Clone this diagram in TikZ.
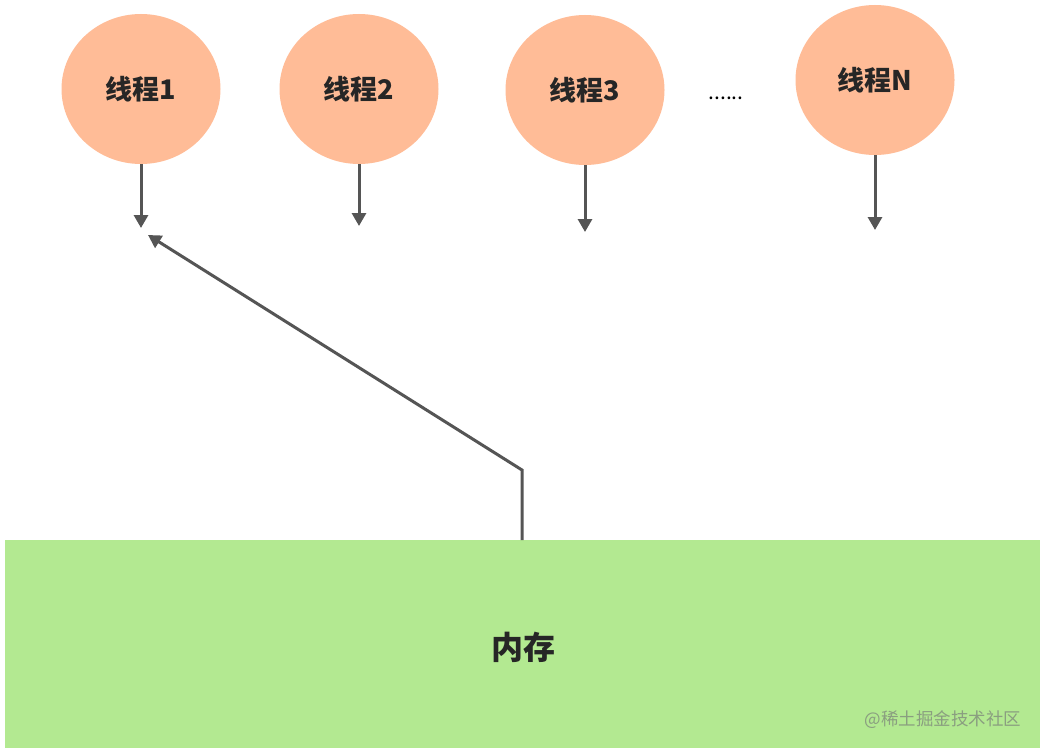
\documentclass[tikz,border=0pt]{standalone}
\usepackage{fontspec}
\setmainfont{Noto Sans CJK SC}
\newfontfamily\cjk{Noto Sans CJK SC}
\usetikzlibrary{shapes.geometric,arrows.meta}
\definecolor{peach}{HTML}{FFBC97}
\definecolor{mem}{HTML}{B3E991}
\definecolor{linegray}{HTML}{555555}
\definecolor{txt}{HTML}{262626}
\definecolor{wmgray}{HTML}{8A9E80}
\tikzset{
  thread/.style={ellipse, fill=peach, minimum width=159pt, minimum height=150pt, inner sep=0pt,
    font=\cjk\bfseries\fontsize{27}{30}\selectfont, text=txt},
  conn/.style={draw=linegray, line width=3pt, -{Triangle[length=13pt,width=14pt]}},
}
\begin{document}
\begin{tikzpicture}[x=1pt,y=-1pt]
\useasboundingbox (0,0) rectangle (1046,752);
\fill[white] (0,0) rectangle (1046,752);
\node[thread] (t1) at (141,89) {线程1};
\node[thread] (t2) at (359,89) {线程2};
\node[thread] (t3) at (585,90) {线程3};
\node[thread] (tn) at (875,80) {线程N};
\node[font=\cjk\fontsize{21}{24}\selectfont] (dots) at (726,98) {......};
\node[fill=mem, minimum width=1035pt, minimum height=208pt, inner sep=0pt, anchor=north west] (mem) at (5,540) {};
\node[font=\cjk\bfseries\fontsize{32}{36}\selectfont, text=txt] (memtext) at (523,647) {内存};
\node[font=\cjk\fontsize{17.5}{20}\selectfont, text=wmgray, anchor=east] (wm) at (1025,720) {@稀土掘金技术社区};
\coordinate (e1) at (141,228);
\coordinate (e2) at (359,226);
\coordinate (e3) at (585,232);
\coordinate (en) at (875,230);
\draw[conn] (t1.south) -- (e1);
\draw[conn] (t2.south) -- (e2);
\draw[conn] (t3.south) -- (e3);
\draw[conn] (tn.south) -- (en);
\coordinate (bend) at (522,470);
\coordinate (tip) at (148,235);
\draw[conn] (mem.north -| bend) -- (bend) -- (tip);
\end{tikzpicture}
\end{document}
